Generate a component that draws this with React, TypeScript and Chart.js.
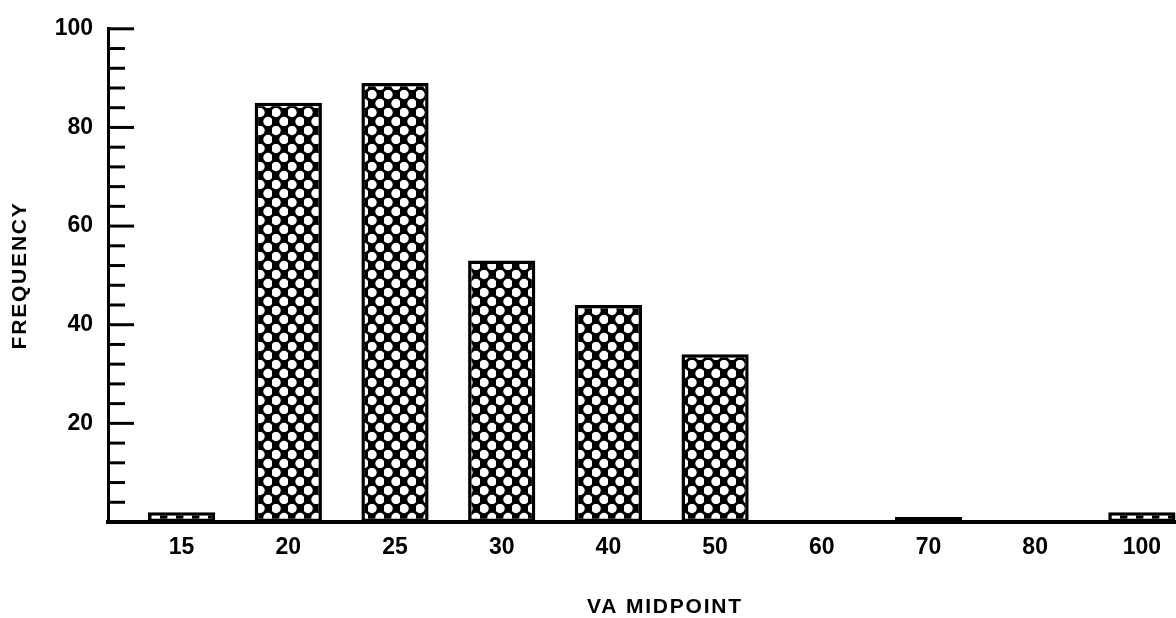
import React, { useEffect, useRef } from 'react';
import { Chart, registerables } from 'chart.js';

Chart.register(...registerables);

// ---- data ----
const categories: string[] = ['15', '20', '25', '30', '40', '50', '60', '70', '80', '100'];
const frequencies: number[] = [2, 85, 89, 53, 44, 34, 0, 1, 0, 2];
const yTickValues: number[] = [20, 40, 60, 80, 100];
const yMax = 100;
const minorTickStep = 4;
const xTitle = 'VA MIDPOINT';
const yTitle = 'FREQUENCY';

const FONT_FAMILY = '"Liberation Sans", Arial, sans-serif';

function makePattern(): CanvasPattern | string {
  const tile = document.createElement('canvas');
  tile.width = 16;
  tile.height = 18;
  const c = tile.getContext('2d');
  if (!c) return '#000';
  c.fillStyle = '#000';
  c.fillRect(0, 0, 16, 18);
  c.fillStyle = '#fff';
  const holes = [
    [4, 4.5],
    [12, 13.5],
  ];
  for (const [hx, hy] of holes) {
    c.beginPath();
    c.arc(hx, hy, 4.7, 0, Math.PI * 2);
    c.fill();
  }
  const p = c.createPattern(tile, 'repeat');
  return p || '#000';
}

export default function App() {
  const ref = useRef<HTMLCanvasElement>(null);

  useEffect(() => {
    const canvas = ref.current;
    if (!canvas) return;
    const pattern = makePattern();

    const decorPlugin = {
      id: 'decor',
      afterDraw(chart: any) {
        const ctx: CanvasRenderingContext2D = chart.ctx;
        const ys = chart.scales.y;
        const area = chart.chartArea;
        const x0 = ys.right;
        ctx.save();
        ctx.strokeStyle = '#000';
        ctx.lineWidth = 3;
        ctx.lineCap = 'butt';
        for (let v = minorTickStep; v <= yMax; v += minorTickStep) {
          const py = ys.getPixelForValue(v);
          const len = v % 20 === 0 ? 26 : 17;
          ctx.beginPath();
          ctx.moveTo(x0 - 1, py);
          ctx.lineTo(x0 + len, py);
          ctx.stroke();
        }
        ctx.fillStyle = '#000';
        ctx.font = 'bold 21px ' + FONT_FAMILY;
        (ctx as any).letterSpacing = '1.8px';
        ctx.textAlign = 'center';
        ctx.textBaseline = 'middle';
        const cx = (area.left + area.right) / 2 + 23;
        ctx.fillText(xTitle, cx, area.bottom + 85);
        ctx.translate(20, (area.top + area.bottom) / 2);
        ctx.rotate(-Math.PI / 2);
        ctx.fillText(yTitle, 0, 0);
        ctx.restore();
      },
    };

    const tickFont = { family: FONT_FAMILY, weight: 'bold' as const, size: 23 };

    const chart = new Chart(canvas, {
      type: 'bar',
      data: {
        datasets: [
          {
            data: frequencies.map((v, i) => ({ x: i, y: v })),
            backgroundColor: pattern as any,
            borderColor: '#000',
            borderWidth: 3.5,
            borderSkipped: false,
            barPercentage: 0.63,
            categoryPercentage: 1,
          },
        ],
      },
      options: {
        responsive: false,
        animation: false,
        layout: { padding: { top: 22, right: 0, left: 0, bottom: 0 } },
        plugins: {
          legend: { display: false },
          tooltip: { enabled: false },
        },
        scales: {
          x: {
            type: 'linear',
            offset: false,
            min: -0.69,
            max: 9.32,
            afterBuildTicks: (s: any) => {
              s.ticks = categories.map((_, i) => ({ value: i }));
            },
            afterFit: (s: any) => {
              s.height = 96;
            },
            ticks: {
              callback: (v: any) => categories[v as number] ?? '',
              font: tickFont,
              color: '#000',
              padding: 12,
              autoSkip: false,
              maxRotation: 0,
            },
            grid: { display: false, drawTicks: false, offset: false },
            border: { display: true, color: '#000', width: 4 },
          },
          y: {
            min: 0,
            max: yMax,
            afterBuildTicks: (s: any) => {
              s.ticks = yTickValues.map((v) => ({ value: v }));
            },
            afterFit: (s: any) => {
              s.width = 108;
            },
            ticks: {
              font: tickFont,
              color: '#000',
              padding: 15,
            },
            grid: { display: false, drawTicks: false },
            border: { display: true, color: '#000', width: 3 },
          },
        },
      },
      plugins: [decorPlugin],
    });

    return () => chart.destroy();
  }, []);

  return (
    <div style={{ position: 'absolute', left: 0, top: 0, width: 1176, height: 618, background: '#fff' }}>
      <canvas ref={ref} width={1176} height={618} style={{ display: 'block', width: 1176, height: 618 }} />
    </div>
  );
}
